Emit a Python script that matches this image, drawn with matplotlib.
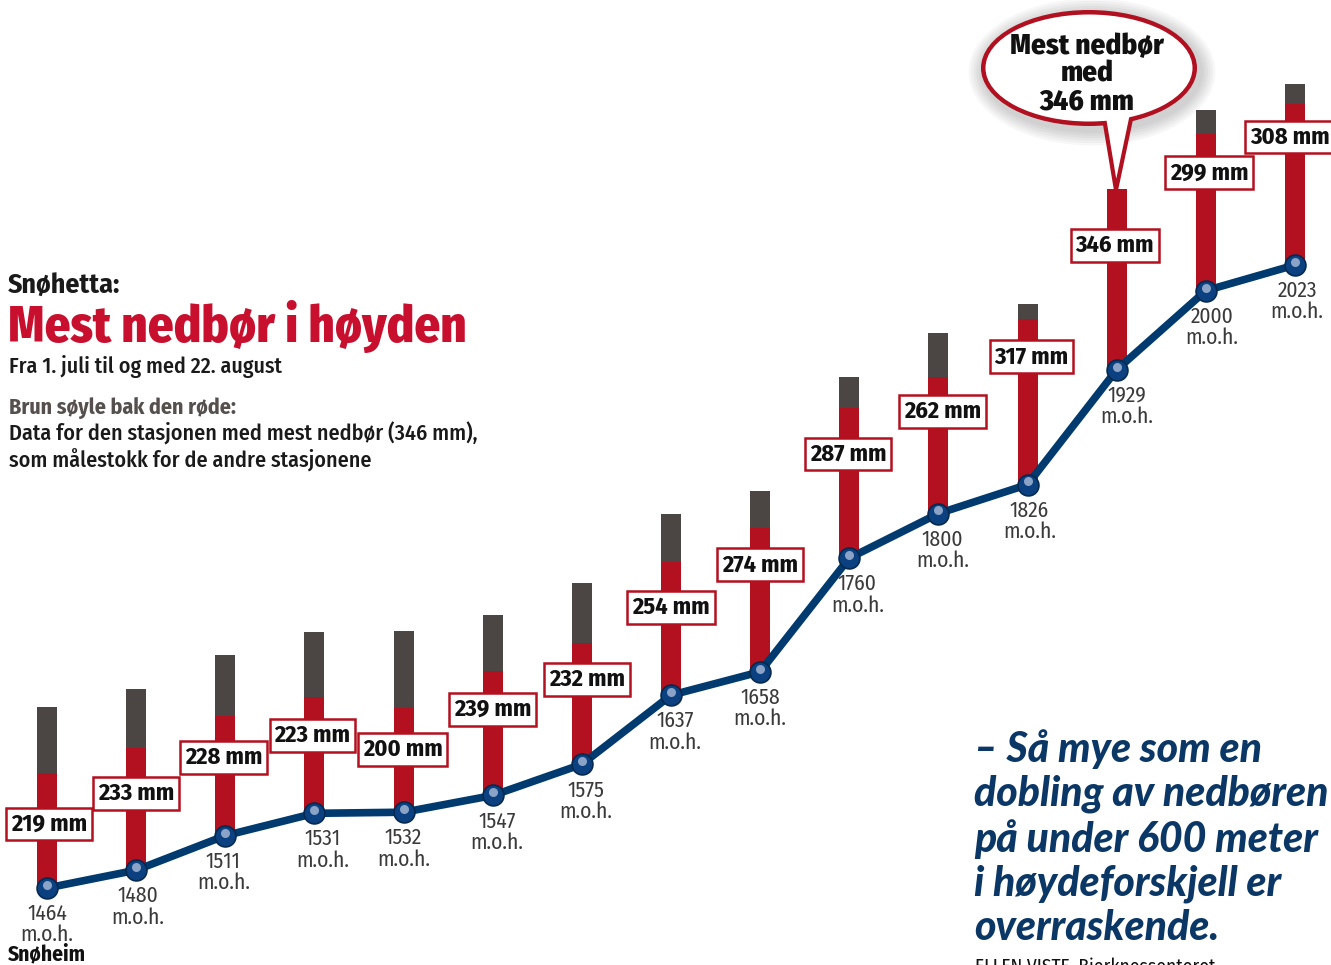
import matplotlib.pyplot as plt
import matplotlib.patches as mpatches
import matplotlib.transforms as mtransforms
import numpy as np

# Data: stations on Snøhetta, elevation (m.o.h.) and precipitation (mm), 1 Jul - 22 Aug
elevation = [1464, 1480, 1511, 1531, 1532, 1547, 1575, 1637, 1658, 1760, 1800, 1826, 1929, 2000, 2023]
precip = [219, 233, 228, 223, 200, 239, 232, 254, 274, 287, 262, 317, 346, 299, 308]
max_precip = max(precip)

# layout tweaks (pixels): lift of mm label above station, x-nudges for labels
label_lift = [64, 77, 78, 78, 63, 86, 85, 88, 107, 104, 102, 128, 124, 118, 128]
label_nudge = [2, 0, -2, -2, -1, 0, 5, 0, 0, -1, 4, 4, -2, 3, -5]
elev_nudge = [0, 2, -2, 8, 0, 4, 4, 4, 0, 8, 4, 2, 10, 6, 2]

cond = ['Fira Sans Condensed', 'DejaVu Sans']
red = '#b3111f'
brown = '#4b4543'
navy = '#003a6e'

W, H = 1331, 965
fig = plt.figure(figsize=(W / 100, H / 100), dpi=100)
ax = fig.add_axes([0, 0, 1, 1])
ax.axis('off')

# scales: station index on x, elevation on y
px_per_idx = (1295 - 47) / 14
px_per_m = (888 - 265) / (2023 - 1464)
ax.set_xlim(-47 / px_per_idx, (W - 47) / px_per_idx)
ax.set_ylim(1464 - (H - 888) / px_per_m, 1464 + 888 / px_per_m)
mm_to_m = 0.523 / px_per_m  # bar height in axis units per mm

x = np.arange(len(elevation))
elev = np.array(elevation)
pr = np.array(precip)
bw = 20 / px_per_idx
pt = 0.72  # px -> points

# brown scale bar (max station) behind red bar
ax.bar(x, max_precip * mm_to_m, bottom=elev, width=bw, color=brown, zorder=2)
ax.bar(x, pr * mm_to_m, bottom=elev, width=bw, color=red, zorder=3)

# elevation line with glossy points
ax.plot(x, elev, color=navy, lw=5.5, zorder=4, solid_capstyle='round')
ax.plot(x, elev, 'o', ms=15, color='#0b4180', mec='#05294f', mew=1.2, zorder=5)
hl = mtransforms.offset_copy(ax.transData, fig=fig, x=0, y=2.2, units='points')
ax.plot(x, elev, marker='o', ls='none', ms=6.5, color='#8aa3c6', mec='none',
        transform=hl, zorder=6)

# mm labels
for i in range(len(x)):
    ax.annotate(f'{precip[i]} mm', (x[i], elev[i]),
                xytext=(label_nudge[i] * pt, label_lift[i] * pt),
                textcoords='offset points', ha='center', va='center',
                fontsize=17.5, fontweight='bold', family=cond, fontstretch='condensed',
                color='#111111', zorder=8,
                bbox=dict(boxstyle='square,pad=0.2', fc='white', ec=red, lw=1.8))

# elevation labels
for i in range(len(x)):
    ax.annotate(f'{elevation[i]}\nm.o.h.', (x[i], elev[i]), xytext=(elev_nudge[i] * pt, -11),
                textcoords='offset points', ha='center', va='top',
                fontsize=15.5, fontweight='normal', family=cond, fontstretch='condensed',
                color='#3a3a3a', linespacing=1.0, zorder=7)
ax.annotate('Snøheim', (x[0], elev[0]), xytext=(0, -40), textcoords='offset points',
            ha='center', va='top', fontsize=15.5, fontweight='bold', family=cond,
            fontstretch='condensed', color='#111111', zorder=7)

# overlay in pixel coordinates for titles and speech bubble
ov = fig.add_axes([0, 0, 1, 1], facecolor='none')
ov.set_xlim(0, W)
ov.set_ylim(H, 0)
ov.axis('off')

kw = dict(family=cond, fontstretch='condensed', va='center')
ov.text(8, 285, 'Snøhetta:', fontsize=20, fontweight='bold', color='#1a1a1a', **kw)
ov.text(8, 327, 'Mest nedbør i høyden', fontsize=36.5, fontweight='heavy', color='#c80f2e', **kw)
ov.text(9, 367, 'Fra 1. juli til og med 22. august', fontsize=15.8, fontweight='medium',
        color='#1a1a1a', **kw)
ov.text(9, 408, 'Brun søyle bak den røde:', fontsize=15.8, fontweight='bold',
        color='#55504e', **kw)
ov.text(9, 447, 'Data for den stasjonen med mest nedbør (346 mm),\nsom målestokk for de andre stasjonene',
        fontsize=15.9, fontweight='medium', color='#1a1a1a', linespacing=1.2, **kw)

ov.text(974, 838, '– Så mye som en\ndobling av nedbøren\npå under 600 meter\ni høydeforskjell er\noverraskende.',
        fontsize=29.5, fontweight='black', style='italic', family=['Lato', 'DejaVu Sans'],
        color='#0b3766', va='center', linespacing=1.19)
ov.text(975, 957, 'ELLEN VISTE, Bjerknessenteret', fontsize=14, family=cond,
        fontstretch='condensed', color='#111111', va='top')

# speech bubble
cx, cy, ew, eh = 1089, 68, 216, 116
for k in range(6):
    ov.add_patch(mpatches.Ellipse((cx + 3, cy + 4), ew + 6 + 5 * k, eh + 6 + 5 * k,
                                  fc='#000000', ec='none', alpha=0.03, zorder=9))
ov.add_patch(mpatches.Ellipse((cx, cy), ew, eh, fc='#b0101f', ec='none', zorder=10))
ov.add_patch(mpatches.Polygon([(1101, 100), (1116, 190), (1135, 100)], closed=True,
                              fc='white', ec='#b0101f', lw=3, joinstyle='miter', zorder=11))
ov.add_patch(mpatches.Ellipse((cx, cy), ew - 9, eh - 9, fc='white', ec='none', zorder=12))
ov.text(cx - 2, cy + 6, 'Mest nedbør\nmed\n346 mm', fontsize=21, fontweight='heavy', family=cond,
        fontstretch='condensed', color='#111111', ha='center', va='center',
        linespacing=0.98, zorder=13)

fig.savefig('out.png', dpi=100)
